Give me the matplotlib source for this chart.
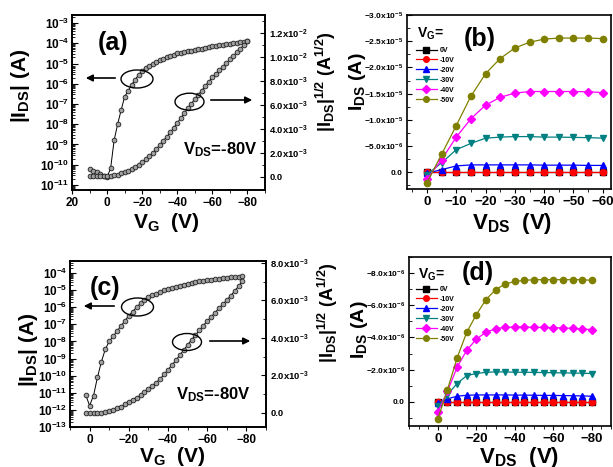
import numpy as np
import matplotlib
matplotlib.use('Agg')
import matplotlib.pyplot as plt
from matplotlib.patches import Ellipse, FancyArrowPatch
from matplotlib.ticker import MultipleLocator, LogLocator, FuncFormatter, NullFormatter

# ---- data ----
# (a) transfer curve, V_DS = -80 V
vg_a = [10, 8, 6, 4, 2, 0, -2, -4, -6, -8, -10, -12, -14, -16, -18, -20, -22, -24,
        -26, -28, -30, -32, -34, -36, -38, -40, -42, -44, -46, -48, -50, -52, -54,
        -56, -58, -60, -62, -64, -66, -68, -70, -72, -74, -76, -78, -80]
ids_a = [6.0e-11, 5.0e-11, 4.2e-11, 3.4e-11, 2.8e-11, 2.5e-11, 6.5e-11, 1.6e-9,
         1.0e-8, 5.0e-8, 2.3e-7, 4.5e-7, 9.0e-7, 1.6e-6, 2.8e-6, 4.5e-6, 6.2e-6,
         8.0e-6, 1.0e-5, 1.25e-5, 1.5e-5, 1.75e-5, 2.0e-5, 2.3e-5, 2.7e-5, 3.2e-5,
         3.5e-5, 3.8e-5, 4.1e-5, 4.4e-5, 4.8e-5, 5.1e-5, 5.5e-5, 5.9e-5, 6.5e-5,
         7.2e-5, 7.6e-5, 8.0e-5, 8.5e-5, 9.0e-5, 9.5e-5, 1.0e-4, 1.06e-4, 1.12e-4,
         1.2e-4, 1.35e-4]
sqrt_a = [0.05e-3, 0.05e-3, 0.05e-3, 0.05e-3, 0.05e-3, 0.05e-3, 0.08e-3, 0.12e-3,
          0.18e-3, 0.28e-3, 0.38e-3, 0.50e-3, 0.65e-3, 0.80e-3, 1.00e-3, 1.20e-3,
          1.45e-3, 1.70e-3, 2.00e-3, 2.30e-3, 2.65e-3, 3.00e-3, 3.35e-3, 3.70e-3,
          4.10e-3, 4.50e-3, 4.90e-3, 5.30e-3, 5.70e-3, 6.10e-3, 6.50e-3, 6.85e-3,
          7.20e-3, 7.60e-3, 7.95e-3, 8.30e-3, 8.60e-3, 8.90e-3, 9.20e-3, 9.50e-3,
          9.80e-3, 10.1e-3, 10.4e-3, 10.7e-3, 11.0e-3, 11.35e-3]

# (c) transfer curve, V_DS = -80 V
vg_c = [2, 0, -2, -4, -6, -8, -10, -12, -14, -16, -18, -20, -22, -24, -26, -28, -30,
        -32, -34, -36, -38, -40, -42, -44, -46, -48, -50, -52, -54, -56, -58, -60,
        -62, -64, -66, -68, -70, -72, -74, -76, -78]
ids_c = [7.4e-12, 1.8e-12, 6.8e-12, 8.0e-11, 6.3e-10, 3.5e-9, 1.0e-8, 2.0e-8,
         4.0e-8, 7.9e-8, 1.6e-7, 3.2e-7, 5.6e-7, 1.0e-6, 1.7e-6, 2.6e-6, 3.8e-6,
         5.0e-6, 6.3e-6, 7.9e-6, 9.5e-6, 1.15e-5, 1.35e-5, 1.6e-5, 1.8e-5, 2.1e-5,
         2.4e-5, 2.7e-5, 2.95e-5, 3.25e-5, 3.55e-5, 3.8e-5, 4.1e-5, 4.35e-5,
         4.7e-5, 5.0e-5, 5.25e-5, 5.5e-5, 5.75e-5, 6.0e-5, 6.45e-5]
sqrt_c = [0.0, 0.0, 0.0, 0.0, 0.02e-3, 0.05e-3, 0.10e-3, 0.17e-3, 0.25e-3, 0.34e-3,
          0.46e-3, 0.60e-3, 0.71e-3, 0.82e-3, 0.95e-3, 1.10e-3, 1.27e-3, 1.44e-3,
          1.62e-3, 1.82e-3, 2.05e-3, 2.30e-3, 2.55e-3, 2.80e-3, 3.08e-3, 3.35e-3,
          3.62e-3, 3.90e-3, 4.15e-3, 4.40e-3, 4.65e-3, 4.90e-3, 5.12e-3, 5.35e-3,
          5.58e-3, 5.80e-3, 6.02e-3, 6.25e-3, 6.50e-3, 6.75e-3, 7.05e-3]

# (b) output curves
vds_b = [0, -5, -10, -15, -20, -25, -30, -35, -40, -45, -50, -55, -60]
out_b = {
    '0V':   [0, 0, 0, 0, 0, 0, 0, 0, 0, 0, 0, 0, 0],
    '-10V': [0, 0, 0, 0, 0, 0, 0, 0, 0, 0, 0, 0, 0],
    '-20V': [0.2e-6, -0.5e-6, -1.2e-6, -1.4e-6, -1.4e-6, -1.4e-6, -1.4e-6, -1.4e-6,
             -1.35e-6, -1.35e-6, -1.35e-6, -1.3e-6, -1.3e-6],
    '-30V': [0.45e-6, -1.8e-6, -4.3e-6, -5.5e-6, -6.5e-6, -6.7e-6, -6.8e-6, -6.8e-6,
             -6.7e-6, -6.7e-6, -6.65e-6, -6.6e-6, -6.5e-6],
    '-40V': [1.3e-6, -2.4e-6, -6.7e-6, -10.2e-6, -12.8e-6, -14.3e-6, -15.1e-6,
             -15.4e-6, -15.4e-6, -15.4e-6, -15.4e-6, -15.35e-6, -15.2e-6],
    '-50V': [2.0e-6, -3.4e-6, -8.9e-6, -14.5e-6, -18.8e-6, -21.7e-6, -23.7e-6,
             -24.8e-6, -25.4e-6, -25.6e-6, -25.6e-6, -25.6e-6, -25.5e-6],
}

# (d) output curves
vds_d = [0, -5, -10, -15, -20, -25, -30, -35, -40, -45, -50, -55, -60, -65, -70, -75, -80]
out_d = {
    '0V':   [0] * 17,
    '-10V': [0] * 17,
    '-20V': [0.1e-6, -0.19e-6, -0.35e-6, -0.41e-6, -0.43e-6, -0.43e-6, -0.43e-6,
             -0.43e-6, -0.42e-6, -0.42e-6, -0.41e-6, -0.4e-6, -0.4e-6, -0.39e-6,
             -0.38e-6, -0.37e-6, -0.35e-6],
    '-30V': [0.27e-6, -0.45e-6, -1.14e-6, -1.63e-6, -1.76e-6, -1.84e-6, -1.86e-6,
             -1.86e-6, -1.84e-6, -1.84e-6, -1.83e-6, -1.82e-6, -1.81e-6, -1.8e-6,
             -1.79e-6, -1.78e-6, -1.76e-6],
    '-40V': [0.62e-6, -0.66e-6, -2.15e-6, -3.2e-6, -3.9e-6, -4.32e-6, -4.55e-6,
             -4.63e-6, -4.65e-6, -4.65e-6, -4.63e-6, -4.63e-6, -4.61e-6, -4.59e-6,
             -4.57e-6, -4.53e-6, -4.49e-6],
    '-50V': [1.05e-6, -0.76e-6, -2.73e-6, -4.32e-6, -5.42e-6, -6.35e-6, -6.97e-6,
             -7.32e-6, -7.48e-6, -7.55e-6, -7.59e-6, -7.59e-6, -7.59e-6, -7.59e-6,
             -7.59e-6, -7.59e-6, -7.55e-6],
}

vg_labels = ['0V', '-10V', '-20V', '-30V', '-40V', '-50V']
colors = ['black', '#ff0000', '#0000ff', '#008080', '#ff00ff', '#808000']
markers = ['s', 'o', '^', 'v', 'D', 'o']

# ---- style ----
plt.rcParams['font.family'] = ['Liberation Sans', 'DejaVu Sans']
plt.rcParams['font.weight'] = 'bold'
plt.rcParams['axes.labelweight'] = 'bold'
plt.rcParams['mathtext.fontset'] = 'custom'
plt.rcParams['mathtext.rm'] = 'Liberation Sans:bold'
plt.rcParams['mathtext.bf'] = 'Liberation Sans:bold'
plt.rcParams['mathtext.it'] = 'Liberation Sans:bold'
plt.rcParams['mathtext.default'] = 'bf'
plt.rcParams['axes.linewidth'] = 1.2

W, H = 613, 467
fig = plt.figure(figsize=(W / 100, H / 100), dpi=100)


def box(l, t, r, b):
    return [l / W, 1 - b / H, (r - l) / W, (b - t) / H]


def px(x, y):
    return (x / W, 1 - y / H)


def sci(v, pos=None):
    if abs(v) < 1e-15:
        return '0.0'
    e = int(np.floor(np.log10(abs(v)) + 1e-9))
    m = v / 10.0 ** e
    return r'$%.1f\mathrm{x}10^{%d}$' % (m, e)


def logfmt(v, pos=None):
    return r'$10^{%d}$' % int(round(np.log10(v)))


ball = dict(marker='o', ms=3.4, mfc='#a0a0a0', mec='#202020', mew=0.6,
            color='black', lw=0.7)


def transfer(rect, vg, ilog, isq, xlim, ylog, ysq, sqmax, xmajor):
    ax = fig.add_axes(rect)
    ax.plot(vg, ilog, **ball)
    ax.set_yscale('log')
    ax.set_xlim(*xlim)
    ax.set_ylim(*ylog)
    ax.yaxis.set_major_locator(LogLocator(base=10, numticks=30))
    ax.yaxis.set_minor_locator(LogLocator(base=10, subs=np.arange(2, 10), numticks=200))
    ax.yaxis.set_major_formatter(FuncFormatter(logfmt))
    ax.yaxis.set_minor_formatter(NullFormatter())
    ax.xaxis.set_major_locator(MultipleLocator(xmajor))
    ax.xaxis.set_minor_locator(MultipleLocator(xmajor / 2))
    ax.tick_params(axis='y', which='both', direction='in', labelsize=8.5, pad=2)
    ax.tick_params(axis='y', which='major', length=4)
    ax.tick_params(axis='y', which='minor', length=2)
    ax.tick_params(axis='x', which='both', direction='out', labelsize=8.5, pad=2, length=3)
    ax.tick_params(axis='x', which='minor', length=2)
    ax2 = ax.twinx()
    ax2.plot(vg, isq, **ball)
    ax2.set_ylim(*ysq)
    ax2.yaxis.set_major_locator(MultipleLocator(0.002))
    ax2.yaxis.set_minor_locator(MultipleLocator(0.001))
    ax2.yaxis.set_major_formatter(FuncFormatter(lambda v, p: sci(v) if v <= sqmax + 1e-9 else ''))
    ax2.tick_params(axis='y', which='both', direction='in', labelsize=6.8, pad=3)
    ax2.tick_params(axis='y', which='minor', length=2)
    return ax, ax2


def output(rect, vds, data, xlim, ylim, xmajor, ymajor, legxy):
    ax = fig.add_axes(rect)
    for lab, c, m in zip(vg_labels, colors, markers):
        ax.plot(vds, data[lab], marker=m, color=c, mfc=c, mec=c, ms=4.5 if m != 'D' else 4,
                lw=0.9, label=lab)
    ax.set_xlim(*xlim)
    ax.set_ylim(*ylim)
    ax.xaxis.set_major_locator(MultipleLocator(xmajor))
    ax.xaxis.set_minor_locator(MultipleLocator(5))
    ax.yaxis.set_major_locator(MultipleLocator(ymajor))
    ax.yaxis.set_minor_locator(MultipleLocator(ymajor / 2))
    ax.yaxis.set_major_formatter(FuncFormatter(sci))
    ax.tick_params(axis='y', which='both', direction='in', labelsize=6, pad=3)
    ax.tick_params(axis='y', which='minor', length=2)
    ax.tick_params(axis='x', which='both', direction='out', labelsize=9.5, pad=2, length=3)
    ax.tick_params(axis='x', which='minor', length=2)
    ax.legend(loc='upper left', bbox_to_anchor=px(*legxy), bbox_transform=fig.transFigure,
              frameon=False, fontsize=5, handlelength=3.0, handletextpad=0.4,
              labelspacing=0.42, borderpad=0, borderaxespad=0, markerscale=0.9)
    return ax


# ---- panels ----
transfer(box(72, 15, 265, 190), vg_a, ids_a, sqrt_a, (20, -90),
         (10 ** -11.25, 10 ** -2.6), (-0.0011, 0.0135), 0.012, 20)
transfer(box(70, 261, 266, 427), vg_c, ids_c, sqrt_c, (10, -90),
         (1e-13, 10 ** -3.3), (-0.00075, 0.0081), 0.008, 20)
output(box(407, 15, 611, 189), vds_b, out_b, (6.8, -62.8), (3.2e-6, -3.0e-5),
       10, 5e-6, (416, 47))
output(box(409, 257, 611, 426), vds_d, out_d, (15, -90), (1.5e-6, -9.0e-6),
       20, 2e-6, (416, 286))

# ---- labels ----
def t(x, y, s, size, rot=0):
    fig.text(*px(x, y), s, fontsize=size, fontweight='bold', ha='center', va='center',
             rotation=rot)

t(20, 86, r'|I$_{DS}$| (A)', 15, 90)
t(166, 222, r'V$_G$  (V)', 15)
t(326, 82, r'|I$_{DS}$|$^{1/2}$ (A$^{1/2}$)', 13, 90)
t(113, 43, '(a)', 18)
t(220, 150, r'V$_{DS}$=-80V', 12)

t(28, 350, r'|I$_{DS}$| (A)', 15, 90)
t(172, 457, r'V$_G$  (V)', 15)
t(328, 313, r'|I$_{DS}$|$^{1/2}$ (A$^{1/2}$)', 13, 90)
t(105, 288, '(c)', 18)
t(213, 395, r'V$_{DS}$=-80V', 12)

t(357, 82, r'I$_{DS}$ (A)', 14, 90)
t(512, 223, r'V$_{DS}$  (V)', 16)
t(480, 39, '(b)', 18)
t(430, 34, r'V$_G$=', 10)

t(359, 330, r'I$_{DS}$ (A)', 14, 90)
t(519, 458, r'V$_{DS}$  (V)', 16)
t(478, 273, '(d)', 18)
t(431, 275, r'V$_G$=', 10)

# ---- ellipses and arrows ----
for cx, cy, w, h in [(137, 79, 32, 18), (189.5, 101.7, 29, 17),
                     (137.5, 307, 32, 18), (187, 342, 29, 17)]:
    fig.add_artist(Ellipse(px(cx, cy), w / W, h / H, transform=fig.transFigure,
                           fill=False, ec='black', lw=1.0))
for x0, y0, x1, y1 in [(118, 78, 83, 78), (208, 100, 255, 100),
                       (117, 306, 81, 306), (207, 341, 253, 341)]:
    fig.add_artist(FancyArrowPatch(px(x0, y0), px(x1, y1), transform=fig.transFigure,
                                   arrowstyle='-|>', mutation_scale=10, color='black', lw=1.2))

fig.savefig('out.png', dpi=100)
